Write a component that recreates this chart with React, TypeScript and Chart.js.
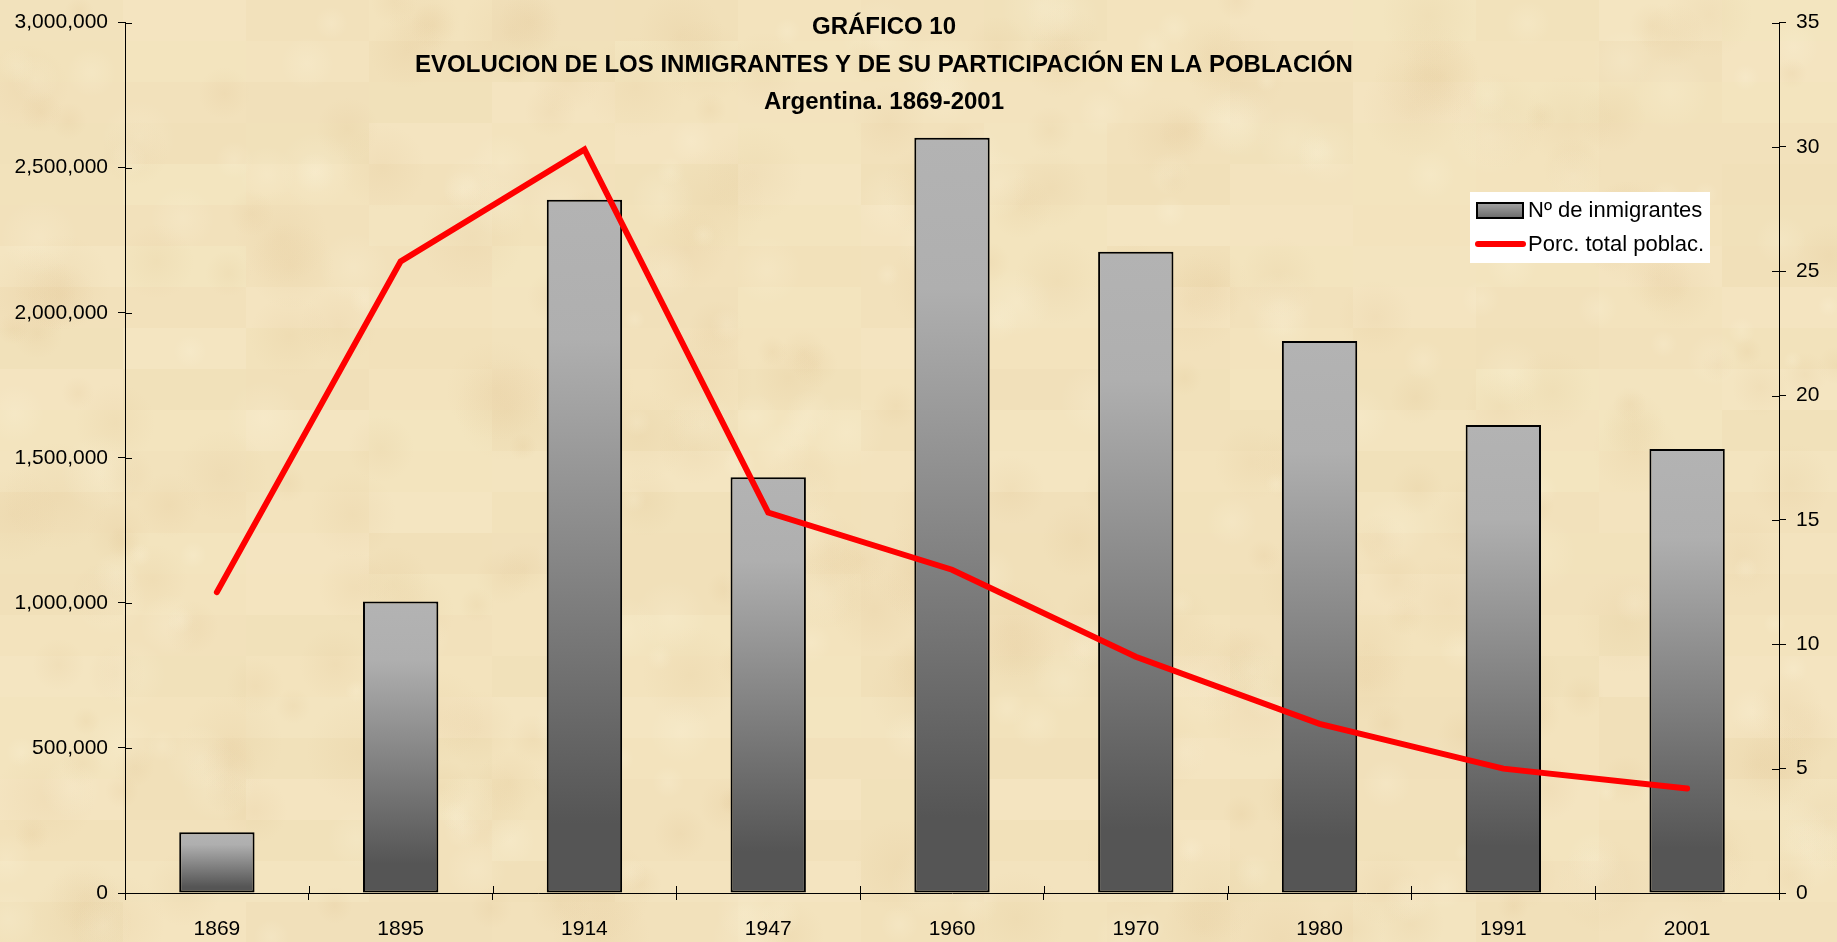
import React, { useEffect, useRef } from 'react';
import { Chart, registerables } from 'chart.js';

Chart.register(...registerables);

const categories = ['1869', '1895', '1914', '1947', '1960', '1970', '1980', '1991', '2001'];
const immigrants = [209000, 1004527, 2389000, 1433000, 2603000, 2210000, 1903000, 1613000, 1530000];
const percentTotal = [12.1, 25.4, 29.9, 15.3, 13.0, 9.5, 6.8, 5.0, 4.2];
const leftTicks = [0, 500000, 1000000, 1500000, 2000000, 2500000, 3000000];
const rightTicks = [0, 5, 10, 15, 20, 25, 30, 35];
const titleLines = [
  'GRÁFICO 10',
  'EVOLUCION DE LOS INMIGRANTES Y DE SU PARTICIPACIÓN EN LA POBLACIÓN',
  'Argentina. 1869-2001',
];
const legendLabels = ['Nº de inmigrantes', 'Porc. total poblac.'];

const FONT = '"Liberation Sans", Arial, sans-serif';

function hash(i: number, j: number) {
  const s = Math.sin(i * 12.9898 + j * 78.233) * 43758.5453;
  return s - Math.floor(s);
}

const backgroundPlugin = {
  id: 'parchment',
  beforeDraw(chart: any) {
    const { ctx, width, height } = chart;
    ctx.save();
    ctx.fillStyle = '#f3e3bd';
    ctx.fillRect(0, 0, width, height);
    const tw = 123;
    const th = 41;
    for (let i = 0; i * tw < width; i++) {
      for (let j = 0; j * th < height; j++) {
        const h = hash(i, j);
        if (h < 0.5) {
          ctx.fillStyle = `rgba(220,185,130,${0.02 + h * 0.08})`;
        } else {
          ctx.fillStyle = `rgba(255,248,225,${(h - 0.5) * 0.22})`;
        }
        ctx.fillRect(i * tw, j * th, tw, th);
      }
    }
    for (let k = 0; k < 260; k++) {
      const x = hash(k, 3.1) * width;
      const y = hash(7.7, k) * height;
      const r = 14 + hash(k, k + 0.5) * 40;
      const g = ctx.createRadialGradient(x, y, 0, x, y, r);
      g.addColorStop(0, 'rgba(210,170,110,0.10)');
      g.addColorStop(1, 'rgba(210,170,110,0)');
      ctx.fillStyle = g;
      ctx.fillRect(x - r, y - r, 2 * r, 2 * r);
    }
    for (let k = 0; k < 200; k++) {
      const x = hash(k + 0.3, 11.9) * width;
      const y = hash(5.3, k + 0.7) * height;
      const r = 10 + hash(k + 2.2, k) * 30;
      const g = ctx.createRadialGradient(x, y, 0, x, y, r);
      g.addColorStop(0, 'rgba(255,250,230,0.18)');
      g.addColorStop(1, 'rgba(255,250,230,0)');
      ctx.fillStyle = g;
      ctx.fillRect(x - r, y - r, 2 * r, 2 * r);
    }
    ctx.restore();
  },
};

const innerTicksPlugin = {
  id: 'innerTicks',
  afterDraw(chart: any) {
    const { ctx, chartArea, scales } = chart;
    ctx.save();
    ctx.strokeStyle = '#000';
    ctx.lineWidth = 1;
    ctx.beginPath();
    const x = scales.x;
    const n = x.ticks.length;
    const step = x.getPixelForTick(1) - x.getPixelForTick(0);
    for (let i = 0; i <= n; i++) {
      const px = Math.round(x.getPixelForTick(0) - step / 2 + i * step) + 0.5;
      ctx.moveTo(px, chartArea.bottom);
      ctx.lineTo(px, chartArea.bottom - 7);
    }
    const yl = scales.y;
    yl.ticks.forEach((t: any) => {
      const py = Math.round(yl.getPixelForValue(t.value)) + 0.5;
      ctx.moveTo(chartArea.left, py);
      ctx.lineTo(chartArea.left + 7, py);
    });
    const yr = scales.y1;
    yr.ticks.forEach((t: any) => {
      const py = Math.round(yr.getPixelForValue(t.value)) + 0.5;
      ctx.moveTo(chartArea.right, py);
      ctx.lineTo(chartArea.right - 7, py);
    });
    ctx.stroke();
    ctx.restore();
  },
};

const titleLegendPlugin = {
  id: 'titleLegend',
  afterDraw(chart: any) {
    const { ctx } = chart;
    ctx.save();
    ctx.fillStyle = '#000';
    ctx.font = `bold 24px ${FONT}`;
    ctx.textAlign = 'center';
    ctx.textBaseline = 'middle';
    const ys = [27, 65, 102];
    titleLines.forEach((t, i) => ctx.fillText(t, 884, ys[i]));

    // legend
    ctx.fillStyle = '#ffffff';
    ctx.fillRect(1470, 192, 240, 71);
    const g = ctx.createLinearGradient(0, 202, 0, 218);
    g.addColorStop(0, '#a8a8a8');
    g.addColorStop(1, '#6a6a6a');
    ctx.fillStyle = g;
    ctx.fillRect(1477, 203, 46, 15);
    ctx.strokeStyle = '#000';
    ctx.lineWidth = 2;
    ctx.strokeRect(1477, 203, 46, 15);
    ctx.strokeStyle = '#ff0000';
    ctx.lineWidth = 6;
    ctx.lineCap = 'round';
    ctx.beginPath();
    ctx.moveTo(1478, 244);
    ctx.lineTo(1523, 244);
    ctx.stroke();
    ctx.fillStyle = '#000';
    ctx.font = `22px ${FONT}`;
    ctx.textAlign = 'left';
    ctx.textBaseline = 'middle';
    ctx.fillText(legendLabels[0], 1528, 211);
    ctx.fillText(legendLabels[1], 1528, 245);
    ctx.restore();
  },
};

function barGradient(context: any) {
  const chart = context.chart;
  const { chartArea, scales } = chart;
  if (!chartArea || !scales.y) return '#888888';
  const v = context.raw as number;
  const top = scales.y.getPixelForValue(v);
  const base = scales.y.getPixelForValue(0);
  if (!isFinite(top) || !isFinite(base) || base - top < 1) return '#888888';
  const g = chart.ctx.createLinearGradient(0, top, 0, base);
  g.addColorStop(0, '#b3b3b3');
  g.addColorStop(0.2, '#afafaf');
  g.addColorStop(0.9, '#555555');
  g.addColorStop(1, '#555555');
  return g;
}

export default function App() {
  const canvasRef = useRef<HTMLCanvasElement | null>(null);

  useEffect(() => {
    if (!canvasRef.current) return;
    const chart = new Chart(canvasRef.current, {
      type: 'bar',
      data: {
        labels: categories,
        datasets: [
          {
            type: 'line',
            label: legendLabels[1],
            data: percentTotal,
            yAxisID: 'y1',
            borderColor: '#ff0000',
            backgroundColor: '#ff0000',
            borderWidth: 6,
            borderCapStyle: 'round',
            borderJoinStyle: 'miter',
            pointRadius: 0,
            tension: 0,
            fill: false,
            order: 0,
          } as any,
          {
            type: 'bar',
            label: legendLabels[0],
            data: immigrants,
            yAxisID: 'y',
            backgroundColor: barGradient,
            borderColor: '#000000',
            borderWidth: 2,
            borderSkipped: false,
            barPercentage: 0.41,
            categoryPercentage: 1,
            order: 1,
          } as any,
        ],
      },
      options: {
        animation: false,
        responsive: true,
        maintainAspectRatio: false,
        layout: { padding: { top: 19, left: 0, right: 0, bottom: 0 } },
        plugins: {
          legend: { display: false },
          title: { display: false },
          tooltip: { enabled: false },
        },
        scales: {
          x: {
            type: 'category',
            offset: true,
            grid: {
              display: true,
              offset: true,
              drawOnChartArea: false,
              drawTicks: true,
              tickLength: 7,
              color: '#000',
            },
            border: { display: true, color: '#000', width: 1 },
            ticks: {
              color: '#000',
              font: { family: FONT, size: 21 },
              padding: 17,
              maxRotation: 0,
            },
            afterFit(scale: any) {
              scale.height = 49;
            },
          },
          y: {
            type: 'linear',
            position: 'left',
            min: leftTicks[0],
            max: leftTicks[leftTicks.length - 1],
            afterBuildTicks(scale: any) {
              scale.ticks = leftTicks.map((v) => ({ value: v }));
            },
            grid: {
              display: true,
              drawOnChartArea: false,
              drawTicks: true,
              tickLength: 7,
              color: '#000',
            },
            border: { display: true, color: '#000', width: 1 },
            ticks: {
              color: '#000',
              font: { family: FONT, size: 21 },
              padding: 10,
              callback: (v: any) => Number(v).toLocaleString('en-US'),
            },
            afterFit(scale: any) {
              scale.width = 125;
            },
          },
          y1: {
            type: 'linear',
            position: 'right',
            min: rightTicks[0],
            max: rightTicks[rightTicks.length - 1],
            afterBuildTicks(scale: any) {
              scale.ticks = rightTicks.map((v) => ({ value: v }));
            },
            grid: {
              display: true,
              drawOnChartArea: false,
              drawTicks: true,
              tickLength: 7,
              color: '#000',
            },
            border: { display: true, color: '#000', width: 1 },
            ticks: {
              color: '#000',
              font: { family: FONT, size: 21 },
              padding: 10,
              callback: (v: any) => String(v),
            },
            afterFit(scale: any) {
              scale.width = 58;
            },
          },
        },
      },
      plugins: [backgroundPlugin, innerTicksPlugin, titleLegendPlugin],
    });
    return () => chart.destroy();
  }, []);

  return (
    <div style={{ position: 'absolute', left: 0, top: 0, width: '1837px', height: '942px' }}>
      <canvas ref={canvasRef} />
    </div>
  );
}
